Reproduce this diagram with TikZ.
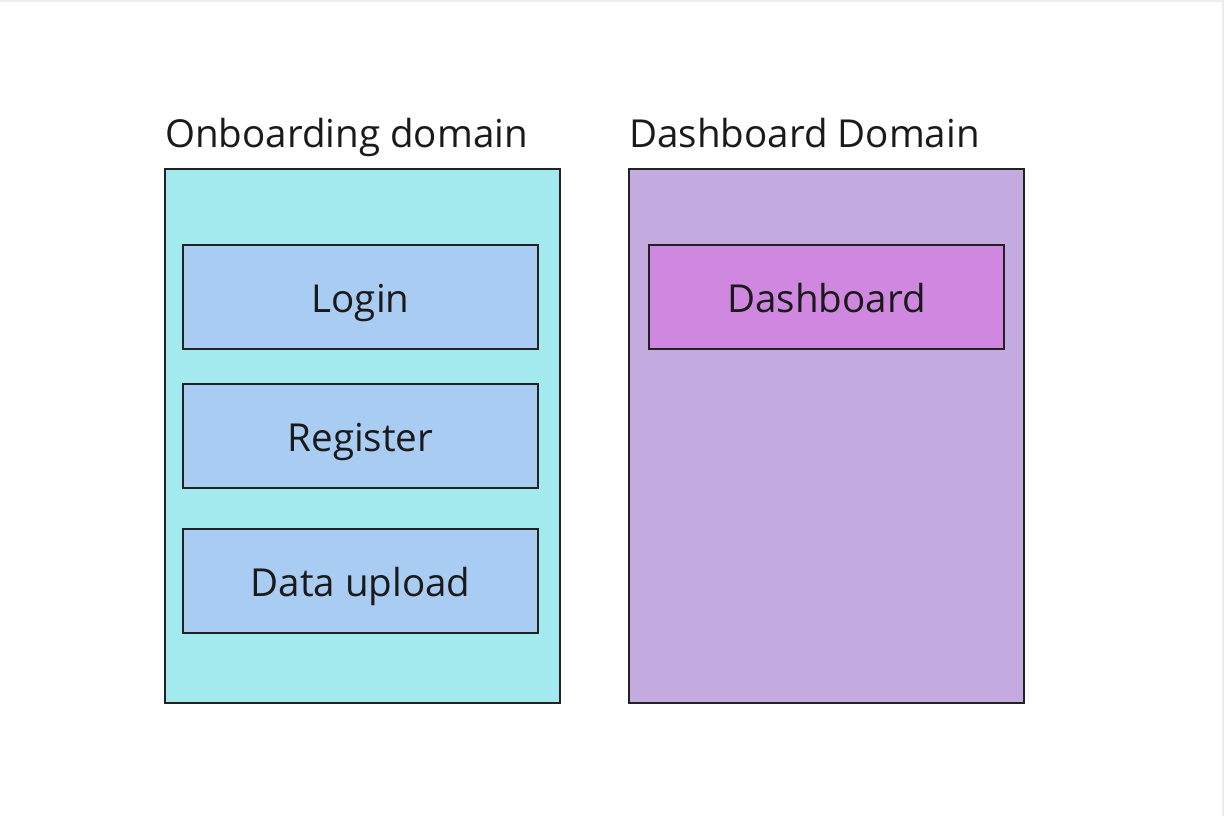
\documentclass[tikz,border=0pt]{standalone}
\usepackage{fontspec}
\setmainfont{Open Sans}
\definecolor{onbfill}{HTML}{A3EAEE}
\definecolor{dshfill}{HTML}{C3ABE0}
\definecolor{itemfill}{HTML}{A9CCF3}
\definecolor{dshitem}{HTML}{D087E0}
\definecolor{edge}{HTML}{222222}
\definecolor{txt}{HTML}{1A1A1A}
\tikzset{
  container/.style={draw=edge, line width=1.1pt},
  item/.style={draw=edge, line width=1.1pt},
  lbl/.style={text=txt, font=\fontsize{28.9}{34}\selectfont, inner sep=0pt},
}
\begin{document}
\begin{tikzpicture}[x=0.75pt,y=-0.75pt]
\useasboundingbox (0,0) rectangle (1224,816);
\fill[white] (0,0) rectangle (1224,816);
\draw[gray!15, line width=1.5pt] (0,1) -- (1223,1) -- (1223,816);
% containers
\draw[container, fill=onbfill] (165,169) rectangle (560,703);
\draw[container, fill=dshfill] (629,169) rectangle (1024,703);
\node[lbl, anchor=base west] (t1) at (165,148) {Onboarding domain};
\node[lbl, anchor=base west] (t2) at (629,148) {Dashboard Domain};
% items
\draw[item, fill=itemfill] (183,245) rectangle (538,349);
\node[lbl, anchor=base] (login) at (360.5,312.5) {Login};
\draw[item, fill=itemfill] (183,384) rectangle (538,488);
\node[lbl, anchor=base] (reg) at (360.5,451.5) {Register};
\draw[item, fill=itemfill] (183,529) rectangle (538,633);
\node[lbl, anchor=base] (up) at (360.5,596.5) {Data upload};
\draw[item, fill=dshitem] (649,245) rectangle (1004,349);
\node[lbl, anchor=base] (dash) at (826.5,312.5) {Dashboard};
\end{tikzpicture}
\end{document}
